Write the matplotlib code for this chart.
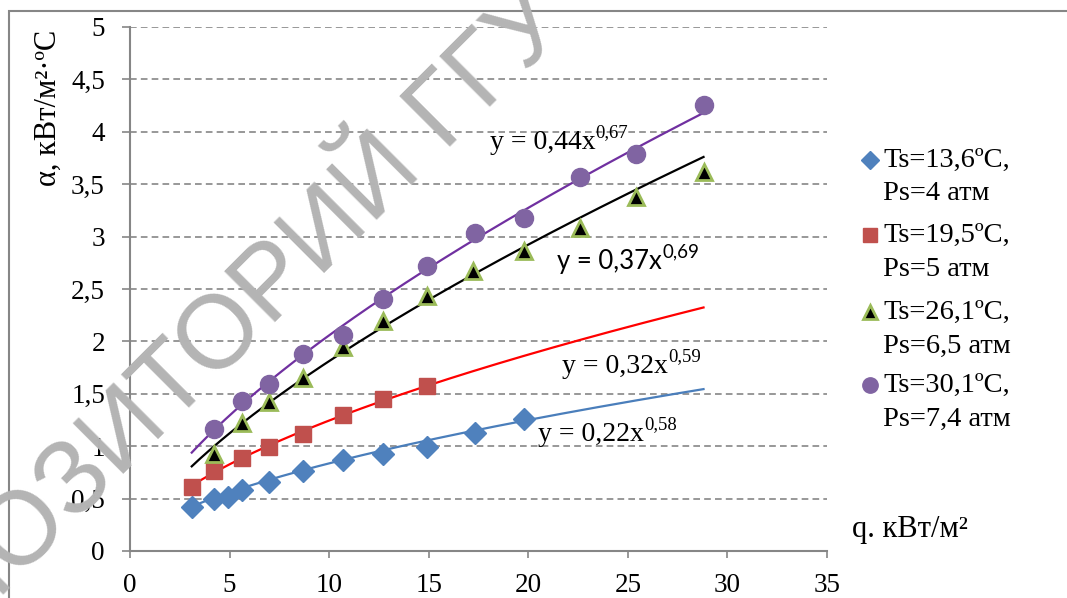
import numpy as np
import matplotlib.pyplot as plt
from matplotlib.patches import Rectangle

plt.rcParams['font.family'] = ['Liberation Serif', 'DejaVu Serif']

# q, kW/m2 and alpha, kW/(m2*C)
q_1 = [3.1, 4.2, 4.9, 5.6, 7.0, 8.7, 10.7, 12.7, 14.9, 17.3, 19.8]
a_1 = [0.42, 0.50, 0.52, 0.58, 0.66, 0.76, 0.87, 0.93, 0.99, 1.13, 1.26]
q_2 = [3.1, 4.2, 5.6, 7.0, 8.7, 10.7, 12.7, 14.9]
a_2 = [0.61, 0.76, 0.89, 0.99, 1.12, 1.30, 1.45, 1.57]
q_3 = [4.2, 5.6, 7.0, 8.7, 10.7, 12.7, 14.9, 17.2, 19.8, 22.6, 25.4, 28.8]
a_3 = [0.93, 1.22, 1.42, 1.65, 1.95, 2.19, 2.43, 2.67, 2.86, 3.08, 3.38, 3.62]
q_4 = [4.2, 5.6, 7.0, 8.7, 10.7, 12.7, 14.9, 17.3, 19.8, 22.6, 25.4, 28.8]
a_4 = [1.16, 1.43, 1.59, 1.88, 2.06, 2.40, 2.72, 3.03, 3.18, 3.57, 3.79, 4.26]

# trendlines y = k * x^n
coef_k = [0.22, 0.32, 0.37, 0.44]
coef_n = [0.58, 0.59, 0.69, 0.67]
eq_base = ["y = 0,22x", "y = 0,32x", "y = 0,37x", "y = 0,44x"]
eq_pow = ["0,58", "0,59", "0,69", "0,67"]

labels = ["Ts=13,6ºC,\nPs=4 атм", "Ts=19,5ºC,\nPs=5 атм",
          "Ts=26,1ºC,\nPs=6,5 атм", "Ts=30,1ºC,\nPs=7,4 атм"]

W, H = 1067, 598
fig = plt.figure(figsize=(W / 100, H / 100), dpi=100)
ax = fig.add_axes([130 / W, 1 - 551 / H, 697 / W, 524 / H])

fs = 19.5
grey = '#868686'

# outer chart frame
fig.patches.append(Rectangle((9 / W, -0.1), 1.2, 1 - 11 / H + 0.1,
                             transform=fig.transFigure, fill=False,
                             edgecolor=grey, lw=1.5))

qs = [q_1, q_2, q_3, q_4]
als = [a_1, a_2, a_3, a_4]
mk = [dict(marker='D', ms=11, mfc='#4F81BD', mec='#4F81BD'),
      dict(marker='s', ms=12, mfc='#C0504D', mec='#C0504D'),
      dict(marker='^', ms=12, mfc='black', mec='#9BBB59', mew=2),
      dict(marker='o', ms=13, mfc='#8064A2', mec='#8064A2')]
line_col = ['#4A7EBB', '#FF0000', '#000000', '#7030A0']

q_all = np.concatenate([np.array(v) for v in qs])
xx = np.linspace(q_all.min(), q_all.max(), 200)
for i in range(4):
    ax.plot(xx, coef_k[i] * xx ** coef_n[i], color=line_col[i], lw=1.6, zorder=3)
for i in range(4):
    ax.plot(qs[i], als[i], ls='none', zorder=4, **mk[i])

# equation labels
eq_pos = [(20.5, 1.11), (21.7, 1.76), (21.45, 2.76), (18.08, 3.90)]
eq_font = ['Liberation Serif', 'Liberation Serif', 'Lato', 'Liberation Serif']
eq_fs = [20, 20, 18.5, 20]
for i in range(4):
    t = ax.text(eq_pos[i][0], eq_pos[i][1], eq_base[i], fontsize=eq_fs[i],
                family=eq_font[i], ha='left', va='center', zorder=5)
    ax.annotate(eq_pow[i], xy=(1.0, 0.55), xycoords=t, fontsize=13.5,
                family=eq_font[i], ha='left', va='bottom', zorder=5)

ax.set_xlim(0, 35)
ax.set_ylim(0, 5)
ax.set_xticks(np.arange(0, 36, 5))
ax.set_yticks(np.arange(0, 5.01, 0.5))
ax.set_yticklabels(['0', '0,5', '1', '1,5', '2', '2,5', '3', '3,5', '4', '4,5', '5'])
ax.tick_params(labelsize=fs, colors=grey, labelcolor='black', width=1.2)
ax.tick_params(axis='y', length=6, pad=12)
ax.tick_params(axis='x', length=5, pad=11)
ax.grid(axis='y', color=grey, ls=(0, (4, 2.5)), lw=1.2)
ax.set_axisbelow(True)
for s in ['top', 'right']:
    ax.spines[s].set_visible(False)
for s in ['left', 'bottom']:
    ax.spines[s].set_color(grey)
    ax.spines[s].set_linewidth(1.5)

# legend, drawn by hand
leg_y = [160, 235, 312, 385]
for i in range(4):
    l1, l2 = labels[i].split('\n')
    ax.plot([870 / W], [1 - leg_y[i] / H], transform=fig.transFigure,
            clip_on=False, ls='none', **dict(mk[i], ms=mk[i]['ms'] * 0.85))
    fig.text(883 / W, 1 - leg_y[i] / H, l1, fontsize=20.5, va='center')
    fig.text(883 / W, 1 - (leg_y[i] + 34) / H, l2, fontsize=20.5, va='center')

fig.text(852 / W, 1 - 530 / H, 'q. кВт/м²', fontsize=22, va='center')
fig.text(48 / W, 1 - 108 / H, 'α, кВт/м²·ºC', fontsize=22, rotation=90,
         ha='center', va='center')

# repository watermark
fig.text(-0.1264, -0.2251, 'РЕПОЗИТОРИЙ ГГУ', family='Liberation Sans',
         fontsize=75, color='#B4B4B4', rotation=45, rotation_mode='anchor',
         ha='left', va='baseline', zorder=10)

fig.savefig('out.png', dpi=100)
